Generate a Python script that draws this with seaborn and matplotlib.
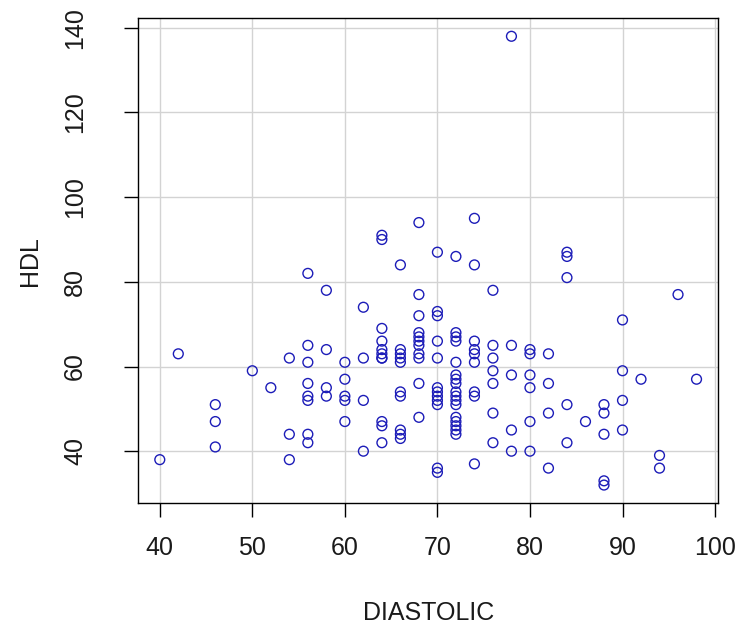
import matplotlib
matplotlib.use("Agg")
import matplotlib.pyplot as plt
import seaborn as sns
import pandas as pd

# ---- data (DIASTOLIC -> list of HDL values) ----
diastolic_levels = [40, 42, 46, 50, 52, 54, 56, 58, 60, 62, 64, 66, 68, 70,
                    72, 74, 76, 78, 80, 82, 84, 86, 88, 90, 92, 94, 96, 98]
hdl_40 = [38]
hdl_42 = [63]
hdl_46 = [51, 47, 41]
hdl_50 = [59]
hdl_52 = [55]
hdl_54 = [62, 44, 38]
hdl_56 = [82, 65, 61, 56, 53, 52, 44, 42]
hdl_58 = [78, 64, 55, 53]
hdl_60 = [61, 57, 53, 52, 47]
hdl_62 = [74, 62, 52, 40]
hdl_64 = [91, 90, 69, 66, 64, 63, 62, 62, 47, 46, 42]
hdl_66 = [84, 64, 63, 62, 61, 54, 53, 45, 44, 43]
hdl_68 = [94, 77, 72, 68, 67, 66, 65, 63, 62, 56, 48]
hdl_70 = [87, 73, 72, 66, 62, 55, 54, 53, 52, 51, 36, 35]
hdl_72 = [86, 68, 67, 66, 61, 58, 57, 56, 54, 53, 52, 51, 48, 47, 46, 45, 44]
hdl_74 = [95, 84, 66, 64, 63, 61, 54, 53, 37]
hdl_76 = [78, 65, 62, 59, 56, 49, 42]
hdl_78 = [138, 65, 58, 45, 40]
hdl_80 = [64, 63, 58, 55, 47, 40]
hdl_82 = [63, 56, 49, 36]
hdl_84 = [87, 86, 81, 51, 42]
hdl_86 = [47]
hdl_88 = [51, 49, 44, 33, 32]
hdl_90 = [71, 59, 52, 45]
hdl_92 = [57]
hdl_94 = [39, 36]
hdl_96 = [77]
hdl_98 = [57]

hdl_groups = [hdl_40, hdl_42, hdl_46, hdl_50, hdl_52, hdl_54, hdl_56, hdl_58,
              hdl_60, hdl_62, hdl_64, hdl_66, hdl_68, hdl_70, hdl_72, hdl_74,
              hdl_76, hdl_78, hdl_80, hdl_82, hdl_84, hdl_86, hdl_88, hdl_90,
              hdl_92, hdl_94, hdl_96, hdl_98]

x_ticks = [40, 50, 60, 70, 80, 90, 100]
y_ticks = [40, 60, 80, 100, 120, 140]

rows = []
for d, vals in zip(diastolic_levels, hdl_groups):
    for v in vals:
        rows.append((d, v))
df = pd.DataFrame(rows, columns=["DIASTOLIC", "HDL"])

# ---- styling ----
sns.set_theme(style="white")
plt.rcParams["font.family"] = ["Liberation Sans", "DejaVu Sans"]

fig = plt.figure(figsize=(7.55, 6.32), dpi=100)
ax = fig.add_axes([0.1832, 0.2041, 0.951 - 0.1832, 0.971 - 0.2041])

ax.set_axisbelow(True)
for t in x_ticks:
    ax.axvline(t, color="#d3d3d3", lw=1.0, zorder=0)
for t in y_ticks:
    ax.axhline(t, color="#d3d3d3", lw=1.0, zorder=0)

blue = "#1c1cb8"
sns.scatterplot(data=df, x="DIASTOLIC", y="HDL", ax=ax, marker="o", s=50,
                color=blue, linewidth=1.0, legend=False, zorder=3)
coll = ax.collections[-1]
coll.set_facecolor("none")
coll.set_edgecolor(blue)
coll.set_linewidth(1.0)

# R-style 4% padding of the data range
xmin, xmax = df["DIASTOLIC"].min(), df["DIASTOLIC"].max()
ymin, ymax = df["HDL"].min(), df["HDL"].max()
xr, yr = xmax - xmin, ymax - ymin
ax.set_xlim(xmin - 0.04 * xr, xmax + 0.04 * xr)
ax.set_ylim(ymin - 0.04 * yr, ymax + 0.04 * yr)

ax.set_xticks(x_ticks)
ax.set_yticks(y_ticks)
ax.set_xticklabels([str(t) for t in x_ticks])
ax.set_yticklabels([str(t) for t in y_ticks], rotation=90, va="center")

for sp in ax.spines.values():
    sp.set_visible(True)
    sp.set_color("black")
    sp.set_linewidth(1.0)

ax.tick_params(axis="both", which="major", direction="out", length=10,
               width=1.0, color="black", labelsize=18, labelcolor="#1a1a1a",
               bottom=True, left=True, top=False, right=False)
ax.tick_params(axis="x", pad=14)
ax.tick_params(axis="y", pad=27)

ax.set_xlabel("DIASTOLIC", fontsize=18, color="#1a1a1a", labelpad=29)
ax.set_ylabel("HDL", fontsize=18, color="#1a1a1a", labelpad=15)

fig.savefig("out.png", dpi=100)
